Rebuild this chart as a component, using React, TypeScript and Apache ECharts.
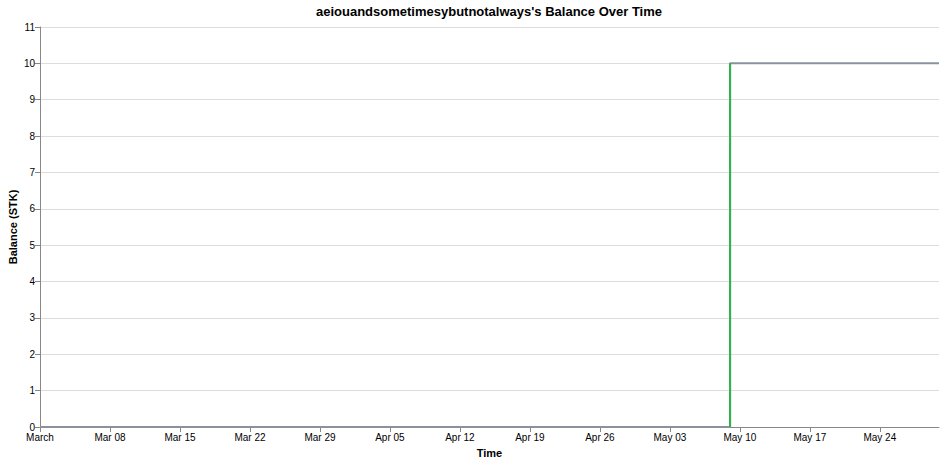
import * as React from "react";
import * as echarts from "echarts";

const eventDates = ["2026-03-01T00:00:00", "2026-05-09T00:30:00", "2026-05-29T22:00:00"];
const balances = [0, 10, 10];
const tickDays = [0, 7, 14, 21, 28, 35, 42, 49, 56, 63, 70, 77, 84];
const yTicks = [0, 1, 2, 3, 4, 5, 6, 7, 8, 9, 10, 11];

const DAY = 24 * 3600 * 1000;
const origin = new Date(eventDates[0]).getTime();
const toDay = (d: string) => (new Date(d).getTime() - origin) / DAY;
const months = ["Jan", "Feb", "Mar", "Apr", "May", "Jun", "Jul", "Aug", "Sep", "Oct", "Nov", "Dec"];
const fullMonths = ["January", "February", "March", "April", "May", "June", "July", "August", "September", "October", "November", "December"];

const formatDay = (v: number) => {
  const d = new Date(origin + Math.round(v) * DAY);
  if (d.getDate() === 1) return fullMonths[d.getMonth()];
  return `${months[d.getMonth()]} ${String(d.getDate()).padStart(2, "0")}`;
};

const FONT = "Liberation Sans, Arial, sans-serif";

export default function App() {
  const chartRef = React.useRef<HTMLDivElement | null>(null);

  React.useEffect(() => {
    if (!chartRef.current) return;
    const chart = echarts.init(chartRef.current, undefined, { renderer: "svg" });
    const points = eventDates.map((d, i) => [toDay(d), balances[i]]);
    // green segment for each rise in balance
    const increases: number[][] = [];
    for (let i = 1; i < points.length; i++) {
      if (balances[i] > balances[i - 1]) {
        increases.push([points[i][0], balances[i - 1]], [points[i][0], balances[i]]);
      }
    }

    chart.setOption({
      animation: false,
      textStyle: { fontFamily: FONT },
      grid: { left: 40, right: 7, top: 27, bottom: 37, containLabel: false, outerBoundsMode: "none" },
      graphic: [
        {
          type: "text",
          x: 489,
          y: 11,
          style: {
            text: "aeiouandsometimesybutnotalways's Balance Over Time",
            font: `bold 13px ${FONT}`,
            fill: "#000",
            textAlign: "center",
            textVerticalAlign: "middle",
          },
        },
      ],
      xAxis: {
        type: "value",
        min: 0,
        max: points[points.length - 1][0],
        name: "Time",
        nameLocation: "middle",
        nameGap: 20,
        nameMoveOverlap: false,
        nameTextStyle: { fontWeight: "bold", fontSize: 11, color: "#000" },
        axisLine: { lineStyle: { color: "#888", width: 1 } },
        axisTick: { length: 5, lineStyle: { color: "#888" }, customValues: tickDays },
        axisLabel: {
          customValues: tickDays,
          fontSize: 10,
          color: "#000",
          margin: 5,
          align: "center",
          formatter: (v: number) => formatDay(v),
        },
        splitLine: { show: false },
      },
      yAxis: {
        type: "value",
        min: 0,
        max: 11,
        interval: 1,
        name: "Balance (STK)",
        nameLocation: "middle",
        nameGap: 22,
        nameMoveOverlap: false,
        nameTextStyle: { fontWeight: "bold", fontSize: 11, color: "#000" },
        axisLine: { show: true, lineStyle: { color: "#888", width: 1 } },
        axisTick: { show: true, length: 5, lineStyle: { color: "#888" }, customValues: yTicks },
        axisLabel: { fontSize: 10, color: "#000", margin: 5, customValues: yTicks },
        splitLine: { lineStyle: { color: "#ddd", width: 1 } },
      },
      series: [
        {
          type: "line",
          step: "end",
          data: points,
          showSymbol: false,
          lineStyle: { color: "#8a929e", width: 2 },
          z: 2,
        },
        {
          type: "line",
          data: increases,
          showSymbol: false,
          lineStyle: { color: "#2db34a", width: 2 },
          z: 3,
        },
      ],
    });

    return () => {
      chart.dispose();
    };
  }, []);

  return (
    <div
      ref={chartRef}
      style={{ position: "fixed", left: 0, top: 0, width: 946, height: 464, background: "#fff" }}
    />
  );
}
